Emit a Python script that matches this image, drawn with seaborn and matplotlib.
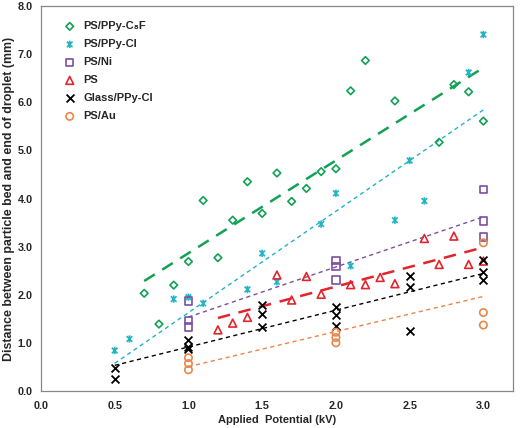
"""
Distance between particle bed and end of droplet vs applied potential.
"""

import numpy as np
import pandas as pd
import matplotlib.pyplot as plt
import seaborn as sns
from matplotlib.path import Path

# PS/PPy-C8F
c8f_kv = [0.7, 0.8, 0.9, 1.0, 1.1, 1.2, 1.3, 1.4, 1.5, 1.6, 1.7, 1.8, 1.9, 2.0,
          2.1, 2.2, 2.4, 2.7, 2.8, 2.9, 3.0]
c8f_mm = [2.03, 1.39, 2.20, 2.69, 3.96, 2.77, 3.55, 4.35, 3.69, 4.53, 3.94, 4.21,
          4.56, 4.62, 6.24, 6.87, 6.03, 5.17, 6.37, 6.22, 5.61]

# PS/PPy-Cl
ppycl_kv = [0.5, 0.6, 0.9, 1.0, 1.1, 1.4, 1.5, 1.6, 1.9, 2.0, 2.1, 2.4, 2.5, 2.6,
            2.9, 3.0]
ppycl_mm = [0.84, 1.08, 1.91, 1.95, 1.82, 2.11, 2.86, 2.27, 3.47, 4.11, 2.60, 3.55,
            4.79, 3.95, 6.62, 7.41]

# PS/Ni
ni_kv = [1.0, 1.0, 1.0, 2.0, 2.0, 2.0, 3.0, 3.0, 3.0]
ni_mm = [1.87, 1.47, 1.33, 2.71, 2.59, 2.31, 4.19, 3.53, 3.20]

# PS
ps_kv = [1.2, 1.3, 1.4, 1.6, 1.7, 1.8, 1.9, 2.1, 2.2, 2.3, 2.4, 2.6, 2.7, 2.8, 2.9, 3.0]
ps_mm = [1.27, 1.41, 1.53, 2.41, 1.89, 2.38, 2.01, 2.21, 2.21, 2.36, 2.23, 3.17,
         2.63, 3.22, 2.63, 2.70]

# Glass/PPy-Cl
glass_kv = [0.5, 0.5, 1.0, 1.0, 1.0, 1.5, 1.5, 1.5, 2.0, 2.0, 2.0, 2.5, 2.5, 2.5,
            3.0, 3.0, 3.0]
glass_mm = [0.48, 0.24, 1.05, 0.92, 0.87, 1.79, 1.59, 1.32, 1.74, 1.58, 1.35, 2.38,
            2.17, 1.25, 2.72, 2.48, 2.31]

# PS/Au
au_kv = [1.0, 1.0, 1.0, 2.0, 2.0, 2.0, 3.0, 3.0, 3.0]
au_mm = [0.69, 0.57, 0.44, 1.22, 1.11, 1.00, 3.08, 1.63, 1.37]

x_ticks = [0.0, 0.5, 1.0, 1.5, 2.0, 2.5, 3.0]
y_ticks = [0.0, 1.0, 2.0, 3.0, 4.0, 5.0, 6.0, 7.0, 8.0]

# Excel-like star marker: an x with a vertical bar
star = Path([(-1, -1), (1, 1), (-1, 1), (1, -1), (0, -1.3), (0, 1.3)],
            [Path.MOVETO, Path.LINETO, Path.MOVETO, Path.LINETO,
             Path.MOVETO, Path.LINETO])

series = [
    ("PS/PPy-C\u2088F", c8f_kv, c8f_mm, "#12a155", "D", 15, (0, (5, 3.5)), 1.8),
    ("PS/PPy-Cl", ppycl_kv, ppycl_mm, "#22b3c4", star, 28, (0, (3, 2.5)), 1.0),
    ("PS/Ni", ni_kv, ni_mm, "#7b4fa0", "s", 28, (0, (3, 2.5)), 1.0),
    ("PS", ps_kv, ps_mm, "#e3242b", "^", 32, (0, (5, 3.5)), 1.8),
    ("Glass/PPy-Cl", glass_kv, glass_mm, "black", "x", 32, (0, (3, 2.5)), 1.0),
    ("PS/Au", au_kv, au_mm, "#e8864b", "o", 28, (0, (3, 2.5)), 1.0),
]

sns.set_style("white")
plt.rcParams['font.family'] = ['Liberation Sans', 'DejaVu Sans']
plt.rcParams['font.weight'] = 'bold'

fig = plt.figure(figsize=(5.22, 4.28), dpi=100)
ax = fig.add_axes([0.0785, 0.0866, 0.904, 0.899])

for label, kv, mm, color, marker, size, dash, lw in series:
    df = pd.DataFrame({"kv": kv, "mm": mm})
    sns.regplot(data=df, x="kv", y="mm", ax=ax, scatter=False, ci=None,
                truncate=True, color=color,
                line_kws={"linestyle": dash, "linewidth": lw})
    if marker == "x":
        sns.scatterplot(data=df, x="kv", y="mm", ax=ax, marker=marker, s=size,
                        color=color, linewidth=1.3, label=label, zorder=3)
    else:
        sns.scatterplot(data=df, x="kv", y="mm", ax=ax, marker=marker, s=size,
                        facecolors="none", edgecolor=color, linewidth=1.2,
                        label=label, zorder=3)

ax.set_xlim(0, 3.2)
ax.set_ylim(0, 8)
ax.set_xticks(x_ticks)
ax.set_yticks(y_ticks)
ax.set_xticklabels([f"{t:.1f}" for t in x_ticks], fontsize=7.8, fontweight='bold')
ax.set_yticklabels([f"{t:.1f}" for t in y_ticks], fontsize=7.8, fontweight='bold')
ax.tick_params(axis='x', direction='inout', length=6, width=0.8, color='#888888', pad=4)
ax.tick_params(axis='y', direction='out', length=4, width=0.8, color='#888888', pad=2)
ax.set_xlabel("Applied  Potential (kV)", fontsize=8, fontweight='bold', labelpad=3)
ax.set_ylabel("Distance between particle bed and end of droplet (mm)", fontsize=8.9,
              fontweight='bold', labelpad=2)
for sp in ax.spines.values():
    sp.set_color('#888888')
    sp.set_linewidth(0.9)

ax.legend(loc='upper left', frameon=False, prop={'weight': 'bold', 'size': 8},
          handletextpad=0.7, labelspacing=0.72, borderaxespad=0.2,
          bbox_to_anchor=(0.035, 0.978), handlelength=1.0)

fig.savefig("out.png", dpi=100)
